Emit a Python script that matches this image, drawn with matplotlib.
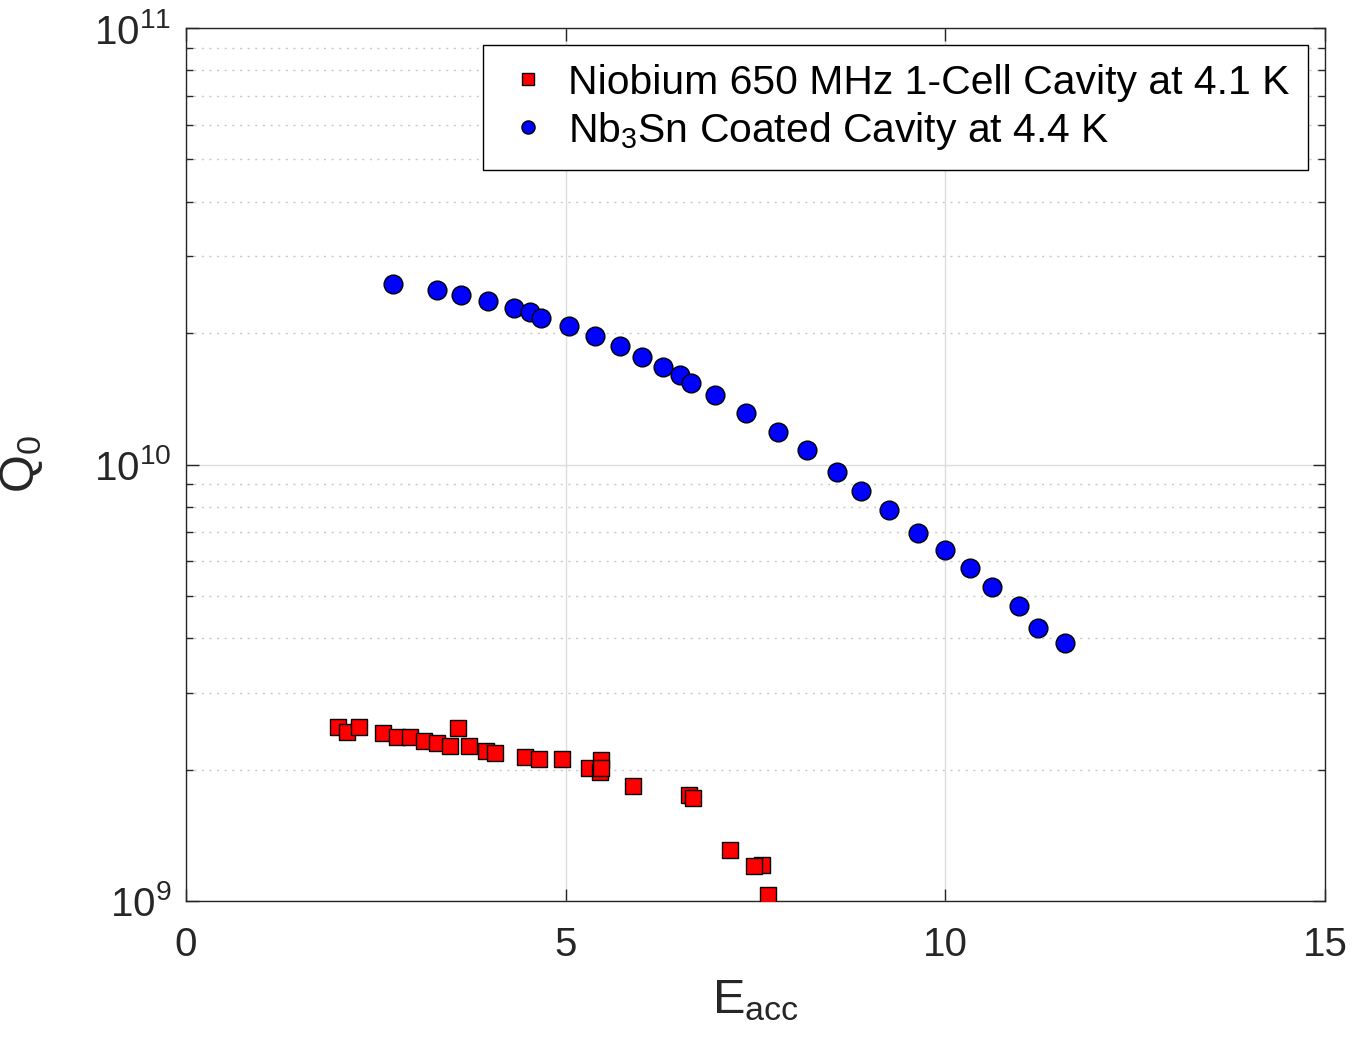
import matplotlib.pyplot as plt
from matplotlib.ticker import LogLocator, NullFormatter

plt.rcParams['font.family'] = ['Liberation Sans', 'DejaVu Sans']
plt.rcParams['mathtext.fontset'] = 'custom'
plt.rcParams['mathtext.rm'] = 'Liberation Sans'
plt.rcParams['mathtext.it'] = 'Liberation Sans'

# Niobium 650 MHz 1-cell cavity at 4.1 K
nb_eacc = [2.00, 2.12, 2.28, 2.60, 2.78, 2.95, 3.13, 3.30, 3.48, 3.58, 3.73, 3.95,
           4.07, 4.47, 4.65, 4.95, 5.31, 5.46, 5.45, 5.46, 5.89, 6.62, 6.67, 7.16,
           7.58, 7.48, 7.67]
nb_q0 = [2.50e9, 2.44e9, 2.50e9, 2.43e9, 2.38e9, 2.38e9, 2.33e9, 2.30e9, 2.27e9,
         2.49e9, 2.26e9, 2.21e9, 2.18e9, 2.14e9, 2.11e9, 2.11e9, 2.02e9, 2.10e9,
         1.98e9, 2.02e9, 1.83e9, 1.75e9, 1.72e9, 1.31e9, 1.21e9, 1.20e9, 1.03e9]

# Nb3Sn coated cavity at 4.4 K
sn_eacc = [2.72, 3.31, 3.62, 3.97, 4.32, 4.53, 4.67, 5.04, 5.39, 5.72, 6.01, 6.28,
           6.51, 6.65, 6.96, 7.37, 7.79, 8.18, 8.57, 8.89, 9.26, 9.64, 9.99, 10.33,
           10.62, 10.97, 11.22, 11.57]
sn_q0 = [2.59e10, 2.51e10, 2.44e10, 2.37e10, 2.28e10, 2.24e10, 2.17e10, 2.08e10,
         1.97e10, 1.87e10, 1.76e10, 1.67e10, 1.60e10, 1.54e10, 1.44e10, 1.31e10,
         1.19e10, 1.08e10, 9.60e9, 8.70e9, 7.87e9, 6.98e9, 6.37e9, 5.78e9, 5.23e9,
         4.74e9, 4.23e9, 3.91e9]

fig = plt.figure(figsize=(13.55, 10.45), dpi=100)
ax = fig.add_axes([0.1373, 0.1378, 0.8406, 0.8354])

ax.plot(nb_eacc, nb_q0, 's', color='red', markersize=11.5, markeredgecolor='black',
        markeredgewidth=1.0, label='Niobium 650 MHz 1-Cell Cavity at 4.1 K', zorder=3)
ax.plot(sn_eacc, sn_q0, 'o', color='blue', markersize=13.5, markeredgecolor='black',
        markeredgewidth=1.0, label='Nb$_3$Sn Coated Cavity at 4.4 K', zorder=3)

ax.set_yscale('log')
ax.set_xlim(0, 15)
ax.set_ylim(1e9, 1e11)
ax.set_xticks([0, 5, 10, 15])
ax.yaxis.set_major_locator(LogLocator(base=10, numticks=5))
ax.yaxis.set_minor_locator(LogLocator(base=10, subs=range(2, 10), numticks=20))
ax.yaxis.set_minor_formatter(NullFormatter())

ax.grid(True, which='major', color='#dcdcdc', linewidth=1.0, linestyle='-')
ax.grid(True, which='minor', axis='y', color='#c8c8c8', linewidth=1.0, linestyle=(0, (1.5, 4)))
ax.set_axisbelow(True)

ax.tick_params(which='both', direction='in', top=True, right=True,
               labelsize=29, colors='#262626', width=1.0)
ax.tick_params(which='major', length=9)
ax.tick_params(which='minor', length=5)
ax.tick_params(axis='x', which='major', pad=18)
ax.tick_params(axis='y', which='major', pad=10.5)
for s in ax.spines.values():
    s.set_color('#262626')
    s.set_linewidth(1.0)

ax.set_xlabel('E$_{\\mathrm{acc}}$', fontsize=35, color='#262626', labelpad=10)
ax.set_ylabel('Q$_0$', fontsize=35, color='#262626')
ax.yaxis.set_label_coords(-0.124, 0.5)

leg = ax.legend(loc='upper right', fontsize=29.4, frameon=True, fancybox=False,
                edgecolor='black', framealpha=1, markerscale=0.7, handletextpad=0.33,
                borderpad=0.45, borderaxespad=0.42, labelspacing=0.2, handlelength=1.3)
leg.get_frame().set_linewidth(1.0)

fig.savefig('out.png', dpi=100)
